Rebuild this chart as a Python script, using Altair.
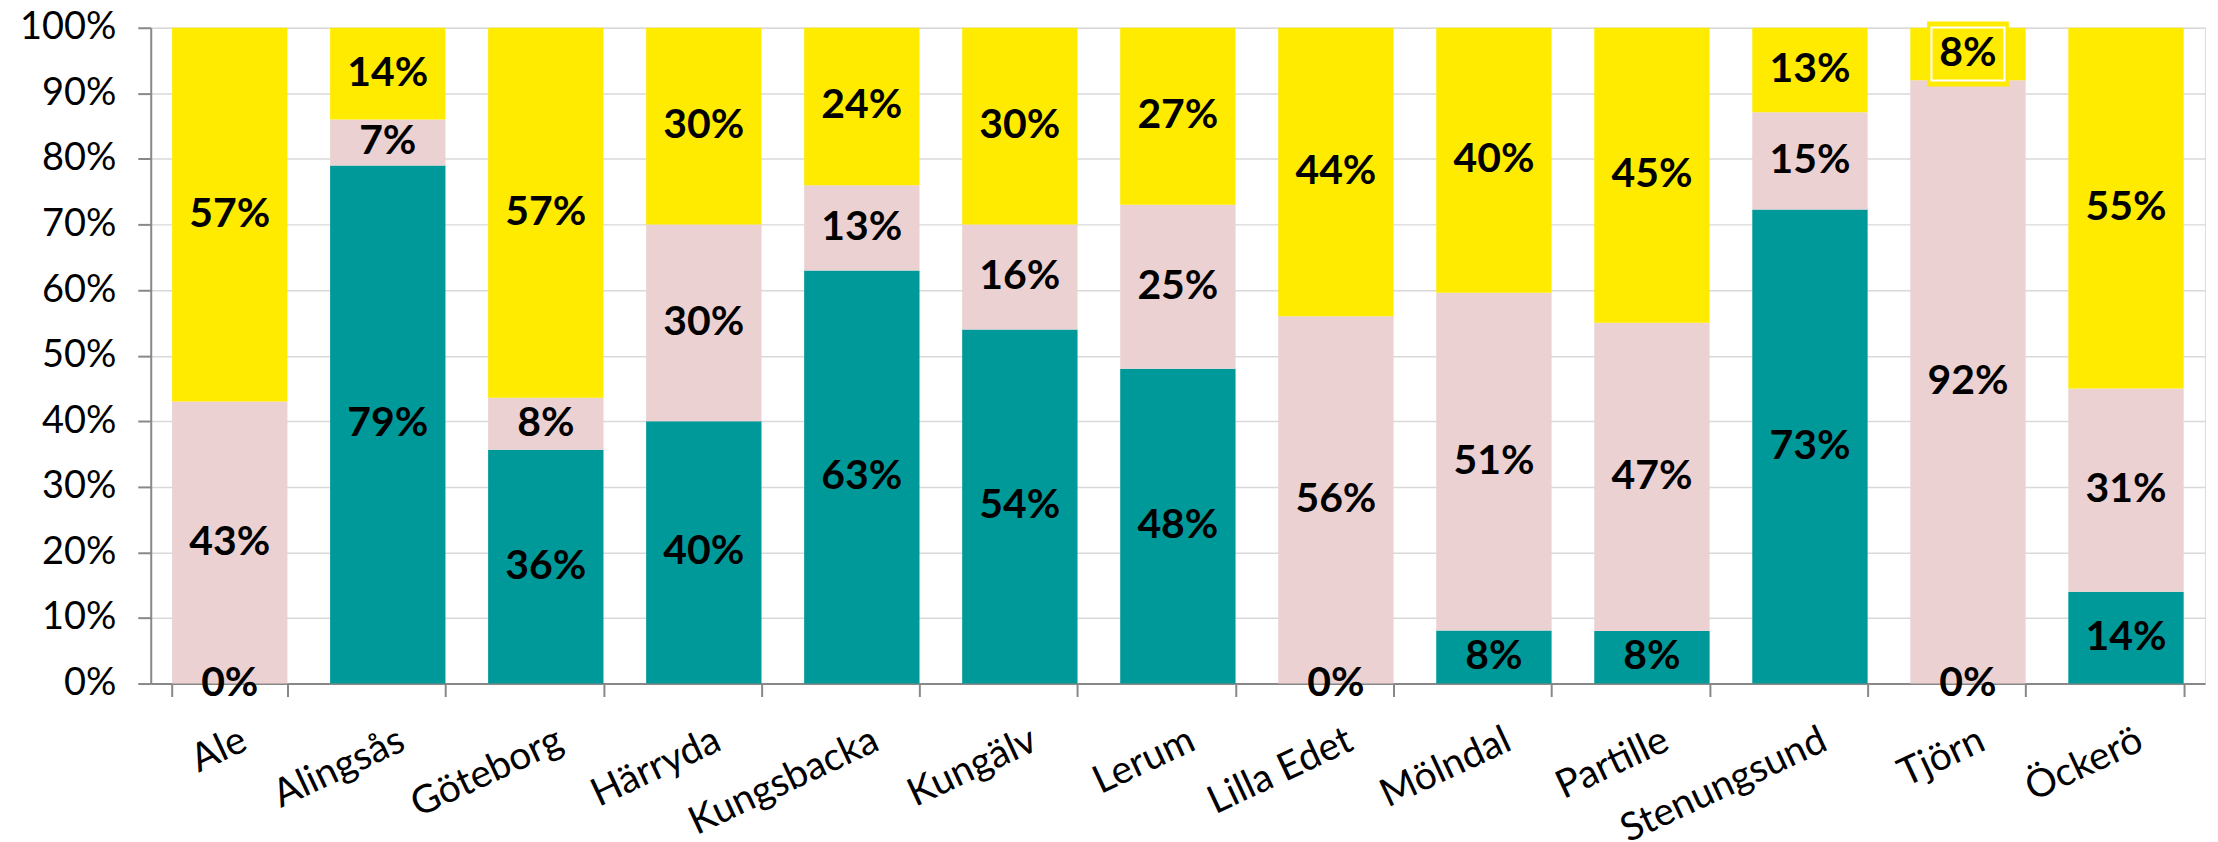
import altair as alt
import pandas as pd

kommuner = ["Ale", "Alingsås", "Göteborg", "Härryda", "Kungsbacka", "Kungälv", "Lerum",
            "Lilla Edet", "Mölndal", "Partille", "Stenungsund", "Tjörn", "Öckerö"]
serie_1 = [0, 79, 36, 40, 63, 54, 48, 0, 8, 8, 73, 0, 14]      # teal (bottom)
serie_2 = [43, 7, 8, 30, 13, 16, 25, 56, 51, 47, 15, 92, 31]   # pink (middle)
serie_3 = [57, 14, 57, 30, 24, 30, 27, 44, 40, 45, 13, 8, 55]  # yellow (top)
serier = ["Serie 1", "Serie 2", "Serie 3"]
farger = ["#009999", "#EBD1D1", "#FFEB00"]

rows = []
for i, k in enumerate(kommuner):
    for j, vals in enumerate([serie_1, serie_2, serie_3]):
        rows.append({"kommun": k, "serie": serier[j], "ordning": j, "varde": vals[i],
                     "etikett": f"{vals[i]}%"})
df = pd.DataFrame(rows)

FONT = "Lato"

base = alt.Chart(df).transform_stack(
    stack="varde", groupby=["kommun"], as_=["y0", "y1"],
    sort=[alt.SortField("ordning", order="ascending")], offset="normalize"
).transform_calculate(mid="(datum.y0 + datum.y1) / 2")

xenc = alt.X("kommun:N", sort=kommuner, title=None,
             scale=alt.Scale(paddingInner=0.27, paddingOuter=0.135),
             axis=alt.Axis(labelAngle=-25, labelAlign="right", labelBaseline="top",
                           labelFont=FONT, labelFontSize=39, labelColor="#000000",
                           labelPadding=24, labelOffset=6, labelLimit=0,
                           tickBand="extent", tickSize=13,
                           tickColor="#888888", tickWidth=2, domainColor="#888888",
                           domainWidth=2, grid=False))

bars = base.mark_bar().encode(
    x=xenc,
    y=alt.Y("y0:Q", title=None, scale=alt.Scale(domain=[0, 1]),
            axis=alt.Axis(format=".0%", values=[i / 10 for i in range(11)],
                          labelFont=FONT, labelFontSize=38, labelColor="#000000",
                          labelPadding=22, tickSize=13, tickColor="#888888", tickWidth=2,
                          domainColor="#888888", domainWidth=2,
                          gridColor="#D9D9D9", gridWidth=1.5)),
    y2="y1:Q",
    color=alt.Color("serie:N", scale=alt.Scale(domain=serier, range=farger), legend=None),
)

box_outer = base.transform_filter(
    "datum.kommun == 'Tjörn' && datum.serie == 'Serie 3'"
).mark_point(shape="M -1.26 -1 L 1.26 -1 L 1.26 1 L -1.26 1 Z", filled=True,
             fill="#FFEB00", opacity=1, size=4225, strokeWidth=0).encode(
    x=alt.X("kommun:N", sort=kommuner), y=alt.Y("mid:Q"))

box_inner = base.transform_filter(
    "datum.kommun == 'Tjörn' && datum.serie == 'Serie 3'"
).mark_point(shape="M -1.38 -1 L 1.38 -1 L 1.38 1 L -1.38 1 Z", filled=False,
             stroke="#FFFFFF", strokeWidth=2, opacity=1, size=2809).encode(
    x=alt.X("kommun:N", sort=kommuner), y=alt.Y("mid:Q"))

labels = base.mark_text(font=FONT, fontSize=41, fontWeight="bold", color="#000000",
                        baseline="middle", align="center").encode(
    x=alt.X("kommun:N", sort=kommuner),
    y=alt.Y("mid:Q"),
    text="etikett:N",
)

chart = alt.layer(bars, box_outer, box_inner, labels).properties(
    width=2058, height=657,
    padding={"left": 11, "top": 0, "right": 5, "bottom": 5},
).configure_view(stroke=None).configure(background="#FFFFFF")

chart.save("out.html", embed_options={"renderer": "svg", "actions": False})
